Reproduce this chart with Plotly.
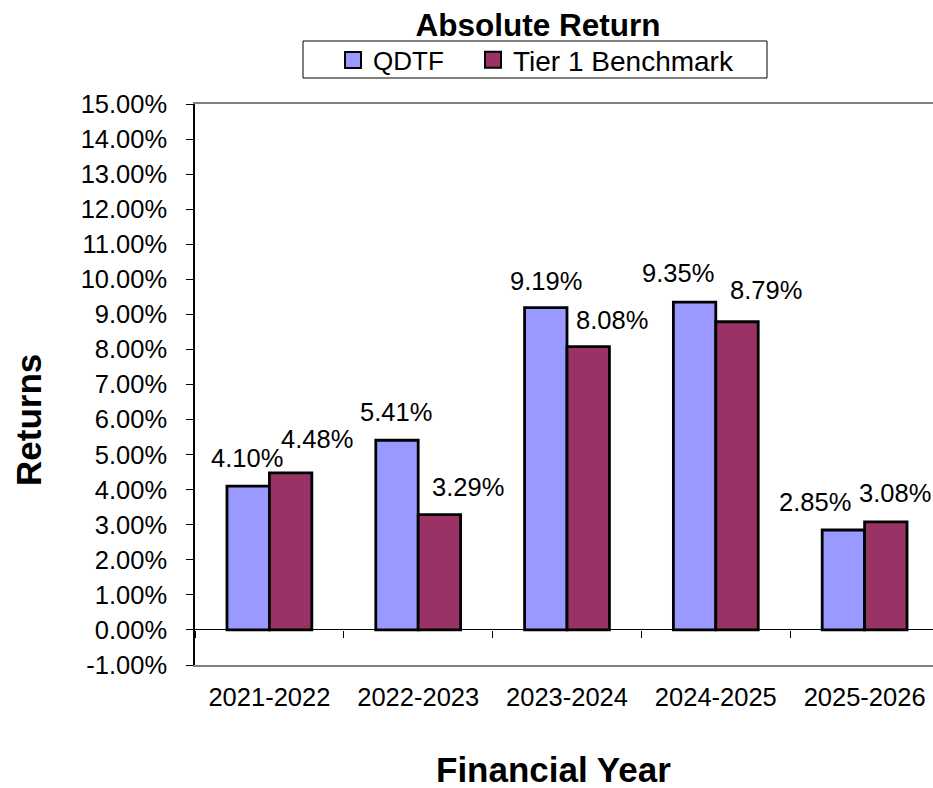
import plotly.graph_objects as go

categories = ["2021-2022", "2022-2023", "2023-2024", "2024-2025", "2025-2026"]
qdtf = [4.10, 5.41, 9.19, 9.35, 2.85]
tier1 = [4.48, 3.29, 8.08, 8.79, 3.08]
y_ticks = list(range(-1, 16))

# label placement styling (px offsets relative to bar centre / bar top)
qdtf_label_dx = [-1, -1, 0, -17, -28]
tier_label_dx = [26, 29, 24, 29, 9]
qdtf_label_dy = [18, 18, 17, 18.7, 18.3]
tier_label_dy = [24, 18, 17, 22, 18.7]

FONT = "Liberation Sans, Arial, sans-serif"
C_Q = "#9999FF"
C_T = "#993366"
BAR_PX = 42.5

W, H = 933, 788
PL, PT, PB, PR = 195, 104, 665, 939  # plot area in pixels (extends past right edge)
L, T = PL, PT
B = H - PB
pw = W - L
ph = PB - T


def px(x):
    return (x - PL) / pw


def py(y):
    return (PB - y) / ph


fig = go.Figure()
fig.add_trace(go.Bar(name="QDTF", x=categories, y=qdtf, showlegend=False,
                     marker=dict(color=C_Q, line=dict(color="black", width=2.8)), hoverinfo="skip"))
fig.add_trace(go.Bar(name="Tier 1 Benchmark", x=categories, y=tier1, showlegend=False,
                     marker=dict(color=C_T, line=dict(color="black", width=2.8)), hoverinfo="skip"))
# legend entries with larger square swatches
for name, col, lg in [("QDTF", C_Q, "legend"), ("Tier 1 Benchmark", C_T, "legend2")]:
    fig.add_trace(go.Scatter(name=name, x=[None], y=[None], mode="markers", legend=lg,
                             marker=dict(symbol="square", size=16, color=col, line=dict(color="black", width=2))))
# dummy trace for category ticks on the zero line
fig.add_trace(go.Scatter(x=categories, y=[0] * len(categories), xaxis="x2", mode="markers",
                         marker=dict(opacity=0), showlegend=False, hoverinfo="skip"))

ann = []
for i, c in enumerate(categories):
    ann.append(dict(x=c, y=qdtf[i], xref="x", yref="y", text=f"{qdtf[i]:.2f}%", showarrow=False,
                    xanchor="center", yanchor="bottom", xshift=-BAR_PX / 2 + qdtf_label_dx[i],
                    yshift=qdtf_label_dy[i] - 6, font=dict(size=25.5, color="black", family=FONT)))
    ann.append(dict(x=c, y=tier1[i], xref="x", yref="y", text=f"{tier1[i]:.2f}%", showarrow=False,
                    xanchor="center", yanchor="bottom", xshift=BAR_PX / 2 + tier_label_dx[i],
                    yshift=tier_label_dy[i] - 6, font=dict(size=25.5, color="black", family=FONT)))

ann.append(dict(text="<b>Returns</b>", x=px(28), y=py(420), xref="paper", yref="paper",
                textangle=-90, showarrow=False, xanchor="center", yanchor="middle",
                font=dict(size=35, color="black", family=FONT)))
ann.append(dict(text="<b>Financial Year</b>", x=px(553), y=py(769), xref="paper", yref="paper",
                showarrow=False, xanchor="center", yanchor="middle",
                font=dict(size=35, color="black", family=FONT)))

cat_px = (PR - PL) / len(categories)
xr = [-0.5, len(categories) - 0.5 - (PR - W) / cat_px]

legend_style = dict(orientation="h", xanchor="left", y=py(60), yanchor="middle",
                    borderwidth=0, bgcolor="rgba(0,0,0,0)")

fig.update_layout(
    width=W, height=H,
    margin=dict(l=L, r=0, t=T, b=B),
    paper_bgcolor="white", plot_bgcolor="white",
    font=dict(family=FONT, color="black"),
    barmode="group", bargap=0.43, bargroupgap=0,
    title=dict(text="<b>Absolute Return</b>", x=538 / W, xref="container", xanchor="center",
               y=1 - 25 / H, yref="container", yanchor="middle",
               font=dict(size=31.5, color="black", family=FONT)),
    legend=dict(x=px(333), font=dict(size=26, color="black", family=FONT), **legend_style),
    legend2=dict(x=px(473), font=dict(size=28, color="black", family=FONT), **legend_style),
    shapes=[dict(type="rect", xref="paper", yref="paper", x0=px(303), x1=px(767), y0=py(78), y1=py(41),
                 line=dict(color="black", width=1), fillcolor="rgba(0,0,0,0)", layer="below")],
    xaxis=dict(type="category", categoryorder="array", categoryarray=categories, range=xr,
               showline=True, linecolor="#808080", linewidth=2, mirror=True,
               ticks="", showgrid=False, tickfont=dict(size=25.5, color="black", family=FONT),
               ticklabelstandoff=8),
    xaxis2=dict(type="category", categoryorder="array", categoryarray=categories, range=xr,
                overlaying="x", anchor="free", position=1 / 16, showline=False, showgrid=False,
                ticks="outside", tickson="boundaries", ticklen=7, tickcolor="black", tickwidth=1,
                showticklabels=False, side="bottom"),
    yaxis=dict(range=[-1, 15], tickvals=y_ticks, ticktext=[f"{v:.2f}%" for v in y_ticks],
               showline=True, linecolor="black", linewidth=1.5, ticks="outside", ticklen=7,
               tickcolor="black", showgrid=False, zeroline=True, zerolinecolor="black", zerolinewidth=1,
               tickfont=dict(size=25.5, color="black", family=FONT), ticklabelstandoff=14),
    annotations=ann,
)

fig.write_html(
    "out.html",
    config={"displayModeBar": False},
    post_script="document.body.style.margin='0';document.body.style.overflow='hidden';"
                "document.documentElement.style.overflow='hidden';",
)
